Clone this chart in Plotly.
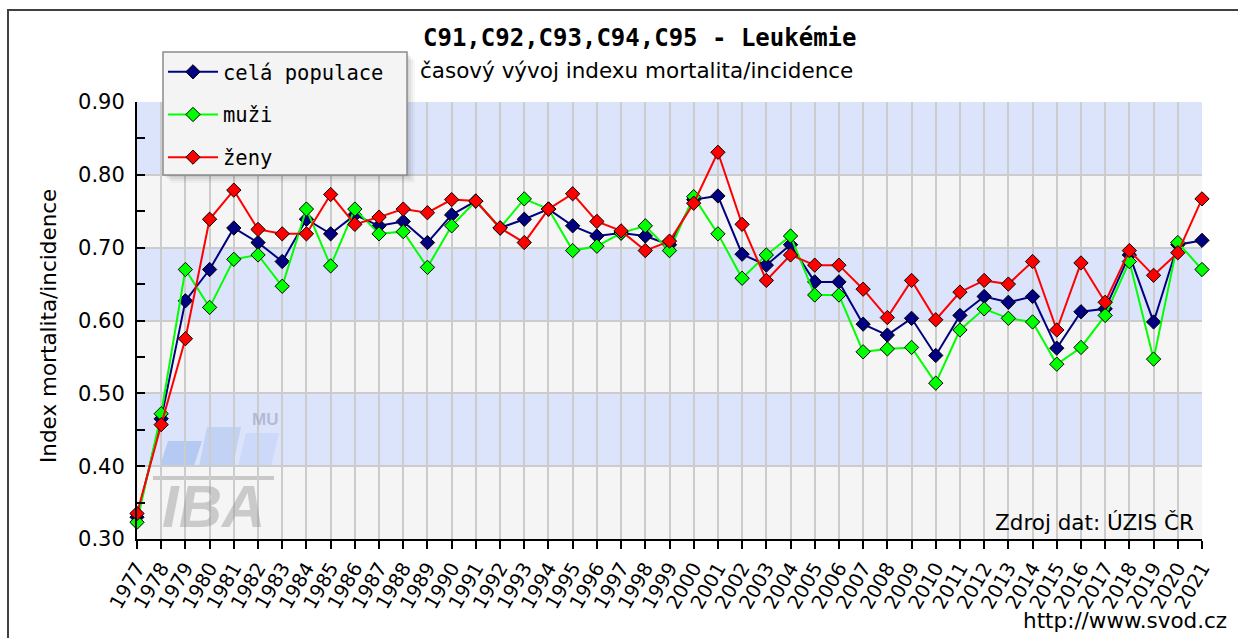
import plotly.graph_objects as go

# --- data -------------------------------------------------------------
years = list(range(1977, 2022))

cela_populace = [0.330, 0.465, 0.627, 0.670, 0.727, 0.707, 0.681, 0.739, 0.719, 0.745,
                 0.730, 0.736, 0.707, 0.745, 0.764, 0.727, 0.739, 0.753, 0.730, 0.716,
                 0.720, 0.716, 0.704, 0.766, 0.771, 0.691, 0.676, 0.704, 0.653, 0.653,
                 0.595, 0.580, 0.603, 0.552, 0.607, 0.633, 0.625, 0.633, 0.562, 0.612,
                 0.616, 0.690, 0.598, 0.704, 0.710]

muzi = [0.323, 0.472, 0.670, 0.618, 0.684, 0.690, 0.647, 0.753, 0.675, 0.753,
        0.719, 0.722, 0.673, 0.730, 0.764, 0.727, 0.767, 0.753, 0.696, 0.702,
        0.720, 0.730, 0.696, 0.770, 0.719, 0.658, 0.690, 0.716, 0.635, 0.635,
        0.557, 0.561, 0.563, 0.514, 0.587, 0.616, 0.603, 0.598, 0.540, 0.563,
        0.607, 0.681, 0.547, 0.707, 0.670]

zeny = [0.335, 0.457, 0.575, 0.739, 0.779, 0.725, 0.719, 0.719, 0.773, 0.732,
        0.742, 0.753, 0.748, 0.766, 0.764, 0.727, 0.707, 0.753, 0.774, 0.736,
        0.723, 0.696, 0.709, 0.761, 0.831, 0.732, 0.655, 0.690, 0.676, 0.676,
        0.643, 0.604, 0.655, 0.601, 0.639, 0.655, 0.650, 0.681, 0.587, 0.679,
        0.625, 0.696, 0.662, 0.693, 0.767]

series_names = ["celá populace", "muži", "ženy"]
series_colors = ["#000080", "#00ff00", "#ff0000"]
y_ticks = [0.30, 0.40, 0.50, 0.60, 0.70, 0.80, 0.90]

title_text = "C91,C92,C93,C94,C95 - Leukémie"
subtitle_text = "časový vývoj indexu mortalita/incidence"
y_title = "Index mortalita/incidence"
source_text = "Zdroj dat: ÚZIS ČR"
url_text = "http://www.svod.cz"

# --- layout geometry (pixels) ------------------------------------------
W, H = 1238, 638
L, R, T, B = 137, 1202, 102, 539
PW, PH = R - L, B - T


def px(xp):
    return (xp - L) / PW


def py(yp):
    return (B - yp) / PH


SANS = "DejaVu Sans"
MONO = "DejaVu Sans Mono"

fig = go.Figure()

for i, (name, vals) in enumerate(zip(series_names, [cela_populace, muzi, zeny])):
    fig.add_trace(go.Scatter(
        x=years, y=vals, name=name, mode="lines+markers",
        line=dict(color=series_colors[i], width=2),
        marker=dict(symbol="diamond", size=11, color=series_colors[i],
                    line=dict(color="#000000", width=1)),
        cliponaxis=False, legendgroup=name,
    ))

shapes = []
# alternating horizontal bands
for i in range(len(y_ticks) - 1):
    shapes.append(dict(
        type="rect", xref="x domain", yref="y", x0=0, x1=1,
        y0=y_ticks[i], y1=y_ticks[i + 1],
        fillcolor="#dce4fc" if i % 2 == 1 else "#f5f5f5",
        line=dict(width=0), layer="below",
    ))

# IBA logo watermark
def para(x0, x1, ytop, ybot, skew, color):
    xa, xb = px(x0), px(x1)
    yt, yb = py(ytop), py(ybot)
    s = skew / PW
    return dict(type="path", xref="paper", yref="paper",
                path=f"M {xa} {yb} L {xb} {yb} L {xb + s} {yt} L {xa + s} {yt} Z",
                fillcolor=color, line=dict(width=0), layer="between")

shapes.append(para(160, 194, 441, 466, 8, "rgba(150,180,235,0.55)"))
shapes.append(para(199, 233, 427, 466, 8, "rgba(160,188,238,0.45)"))
shapes.append(para(238, 271, 433, 466, 8, "rgba(185,205,245,0.45)"))
shapes.append(dict(type="rect", xref="paper", yref="paper",
                   x0=px(153), x1=px(274), y0=py(480), y1=py(476),
                   fillcolor="rgba(170,170,170,0.6)", line=dict(width=0), layer="between"))

# legend box: soft drop shadow, then the panel itself
for d, a in [(2, 0.06), (4, 0.05), (6, 0.04), (8, 0.03)]:
    shapes.append(dict(type="rect", xref="paper", yref="paper",
                       x0=px(163 + d), x1=px(407 + d), y0=py(52 + d), y1=py(175 + d),
                       fillcolor=f"rgba(0,0,0,{a})", line=dict(width=0), layer="above"))
shapes.append(dict(type="rect", xref="paper", yref="paper",
                   x0=px(163), x1=px(407), y0=py(52), y1=py(175),
                   fillcolor="#f4f4f4", line=dict(color="#8a8a8a", width=1.5),
                   layer="above"))

# outer frame
shapes.append(dict(type="rect", xref="paper", yref="paper",
                   x0=px(8), x1=px(1260), y0=py(10), y1=py(660),
                   line=dict(color="#404040", width=2), fillcolor="rgba(0,0,0,0)",
                   layer="above"))

annotations = [
    dict(text=f"<b>{title_text}</b>", x=px(639), y=py(38), xref="paper", yref="paper",
         showarrow=False, xanchor="center", yanchor="middle",
         font=dict(family=MONO, size=24, color="#000000")),
    dict(text=subtitle_text, x=px(636), y=py(71), xref="paper", yref="paper",
         showarrow=False, xanchor="center", yanchor="middle",
         font=dict(family=SANS, size=21.5, color="#000000")),
    dict(text=y_title, x=px(48), y=py(326), xref="paper", yref="paper", textangle=-90,
         showarrow=False, xanchor="center", yanchor="middle",
         font=dict(family=SANS, size=21.5, color="#000000")),
    dict(text=source_text, x=px(1196), y=py(522), xref="paper", yref="paper",
         showarrow=False, xanchor="right", yanchor="middle",
         font=dict(family=SANS, size=21.5, color="#000000")),
    dict(text=url_text, x=px(1229), y=py(620), xref="paper", yref="paper",
         showarrow=False, xanchor="right", yanchor="middle",
         font=dict(family=SANS, size=21.5, color="#000000")),
    dict(text="<b><i>IBA</i></b>", x=px(213), y=py(506), xref="paper", yref="paper",
         showarrow=False, xanchor="center", yanchor="middle",
         font=dict(family="Liberation Sans", size=60, color="rgba(150,150,150,0.45)")),
    dict(text="<b>MU</b>", x=px(265), y=py(419), xref="paper", yref="paper",
         showarrow=False, xanchor="center", yanchor="middle",
         font=dict(family="Liberation Sans", size=17, color="rgba(150,160,185,0.6)")),
]

fig.update_layout(
    width=W, height=H,
    margin=dict(l=L, r=W - R, t=T, b=H - B, autoexpand=False),
    paper_bgcolor="#ffffff", plot_bgcolor="#ffffff",
    shapes=shapes, annotations=annotations,
    showlegend=True,
    legend=dict(
        x=px(163), y=py(52), xanchor="left", yanchor="top",
        bgcolor="rgba(0,0,0,0)", borderwidth=0,
        font=dict(family=MONO, size=20.5, color="#000000"),
        tracegroupgap=13, itemwidth=50,
    ),
    xaxis=dict(
        range=[1977, 2021], tickmode="array", tickvals=years,
        ticktext=[str(y) for y in years], tickangle=-60,
        tickfont=dict(family=SANS, size=19.5, color="#000000"),
        ticks="outside", ticklen=8, tickwidth=2, tickcolor="#000000",
        showline=True, linecolor="#000000", linewidth=2,
        showgrid=True, gridcolor="#cccccc", gridwidth=2, zeroline=False,
    ),
    yaxis=dict(
        range=[0.3, 0.9], tickmode="array", tickvals=y_ticks,
        ticktext=[f"{v:.2f}" for v in y_ticks],
        tickfont=dict(family=SANS, size=21, color="#000000"),
        ticks="inside", ticklen=8, tickwidth=2, tickcolor="#000000",
        ticklabelstandoff=6,
        minor=dict(dtick=0.05, ticks="inside", ticklen=8, tickwidth=2,
                   tickcolor="#000000", showgrid=False),
        showline=True, linecolor="#000000", linewidth=2,
        showgrid=True, gridcolor="#cccccc", gridwidth=2, zeroline=False,
    ),
)

fig.write_html("out.html")
